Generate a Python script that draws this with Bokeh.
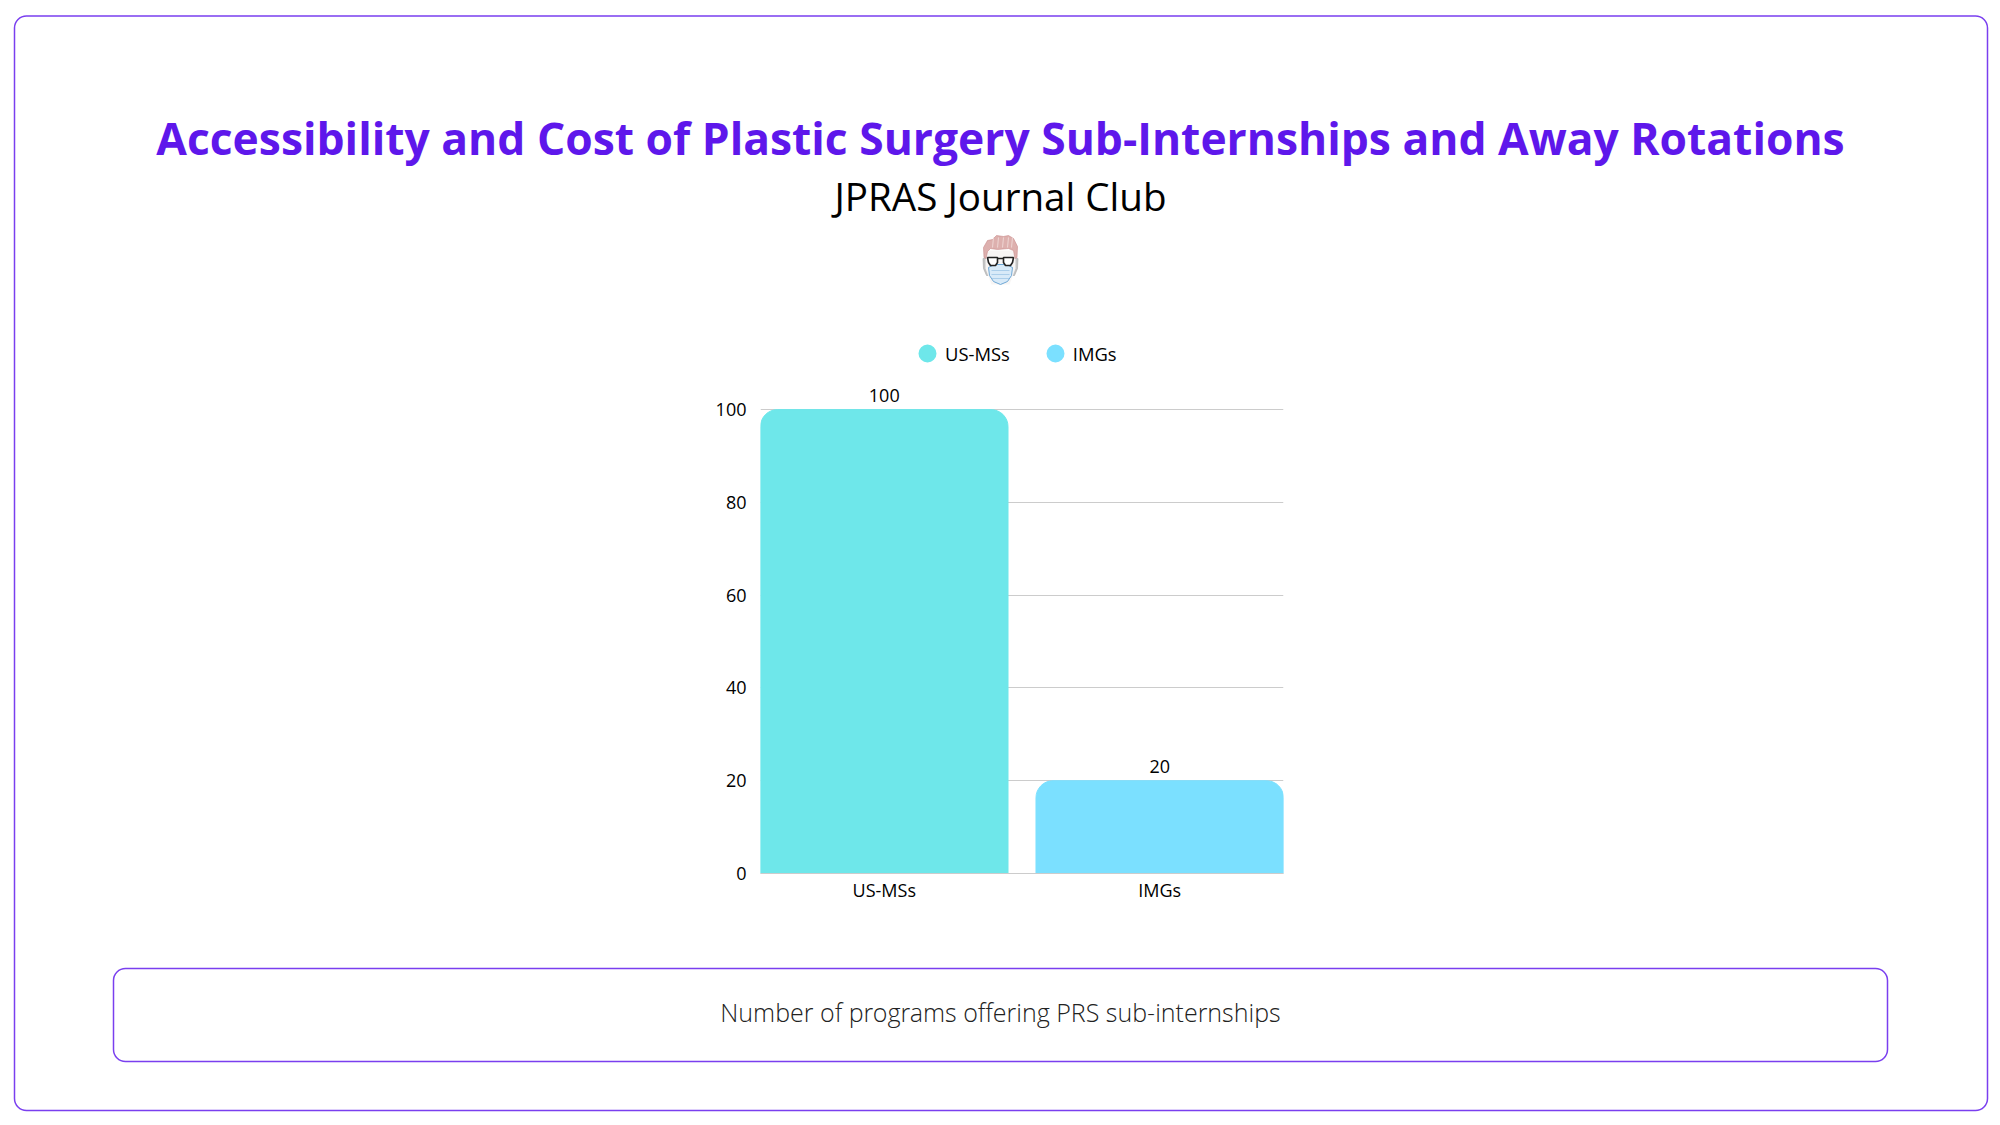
from bokeh.plotting import figure
from bokeh.core.properties import value
from bokeh.models import (FactorRange, Range1d, Label, LabelSet, BoxAnnotation, PolyAnnotation,
                          ColumnDataSource, Legend, LegendItem, FixedTicker)
from bokeh.embed import file_html
from bokeh.resources import INLINE

# ---- data ----
categories = ["US-MSs", "IMGs"]
programs = [100, 20]
bar_colors = ["#6EE7EA", "#7BE0FF"]
y_ticks = [0, 20, 40, 60, 80, 100]
title_text = "Accessibility and Cost of Plastic Surgery Sub-Internships and Away Rotations"
subtitle_text = "JPRAS Journal Club"
caption_text = "Number of programs offering PRS sub-internships"

FONT = "Open Sans"
PURPLE = "#5E17EB"
W, H = 1992, 1117
TOP_EXTRA = 8  # headroom above 100 so the value label is not clipped

# ---- background page: frames, titles, avatar, legend ----
bg = figure(width=W, height=H, output_backend="svg", toolbar_location=None,
            x_range=Range1d(0, W), y_range=Range1d(0, H),
            min_border=0, min_border_left=0, min_border_right=0, min_border_top=0, min_border_bottom=0,
            styles={"position": "absolute", "left": "0px", "top": "0px"})
bg.xaxis.visible = False
bg.yaxis.visible = False
bg.grid.visible = False
bg.outline_line_color = None

legend_items = []
for c, col in zip(categories, bar_colors):
    r = bg.scatter(x=[float("nan")], y=[float("nan")], marker="circle", fill_color=col, line_color=col, line_width=3.6)
    legend_items.append(LegendItem(label=c, renderers=[r]))
bg.add_layout(Legend(items=legend_items, orientation="horizontal", location=(909, H - 353 - 18),
                     glyph_width=36, glyph_height=36, label_standoff=0, spacing=27, padding=0, margin=0,
                     border_line_color=None, background_fill_alpha=0,
                     label_text_font=FONT, label_text_font_size="18.4px", label_text_color="#000000"), "center")

def text(s, cx, cy, size, color="#000000", style="normal", font=FONT):
    bg.add_layout(Label(x=cx, y=H - cy, x_units="screen", y_units="screen", text=s,
                        text_align="center", text_baseline="middle", text_font=font, text_font_size=size,
                        text_font_style=style, text_color=color))

def box(l, t, r, b, radius, width):
    bg.add_layout(BoxAnnotation(left=l, right=r, top=H - t, bottom=H - b,
                                left_units="screen", right_units="screen", top_units="screen", bottom_units="screen",
                                fill_alpha=0, line_color="#7A3FEF", line_alpha=1, line_width=width,
                                border_radius=radius))

def poly(pts, cx=1000, cy=260, fill=None, line=None, lw=1.0):
    xs = [cx + a for a, _ in pts]
    ys = [H - (cy + b) for _, b in pts]
    bg.add_layout(PolyAnnotation(xs=xs, ys=ys, xs_units="screen", ys_units="screen",
                                 fill_color=fill or "white", fill_alpha=1 if fill else 0,
                                 line_color=line or "white", line_alpha=1 if line else 0, line_width=lw))

box(14, 15.5, 1987, 1110, 12, 1.5)
box(113, 968, 1887, 1061, 12, 1.5)

text(title_text, 1000, 137.5, "44.4px", PURPLE, "bold")
text(subtitle_text, 1000, 195, "38.6px")
text(caption_text, 1000, 1011.5, "25px", "#222222", font="Open Sans Light")

# avatar
poly([(-14, -3), (-17.5, -2), (-17, 8), (-14, 15), (-11, 15)], fill="#C4C4C4", line="#A8A8A8", lw=0.6)
poly([(14, -3), (17.5, -2), (17, 8), (14, 15), (11, 15)], fill="#C4C4C4", line="#A8A8A8", lw=0.6)
poly([(-15, -10), (15, -10), (15, 8), (9, 24), (-9, 24), (-15, 8)], fill="#F7F5F4")
poly([(-16.5, -3), (-17, -13), (-13, -20), (-8, -21), (-4, -25), (3, -24), (8, -25), (13, -22), (17, -14),
      (16.5, -3), (14.5, -2), (13, -10), (8, -12), (-3, -11), (-10, -12), (-13, -9), (-14.5, -2)],
     fill="#DDB0AE", line="#C98C8C", lw=0.6)
for dx in (-8, -3, 2, 7, 11):
    poly([(dx, -13), (dx + 1, -23)], line="#F3DEDC", lw=0.8)
poly([(-12, 7), (-6, 4), (6, 4), (12, 7), (11, 15), (7, 21), (0, 24), (-7, 21), (-11, 15)],
     fill="#D8EAF8", line="#6FA8D6", lw=1.0)
for y_off in (10, 14, 18):
    poly([(-9, y_off), (9, y_off)], line="#8DBBE0", lw=0.6)
poly([(-13, -3), (-3, -3), (-3, 2), (-5, 5), (-10, 5), (-12, 2)], fill="#FFFFFF", line="#222222", lw=1.6)
poly([(3, -3), (13, -3), (12, 2), (10, 5), (5, 5), (3, 2)], fill="#FFFFFF", line="#222222", lw=1.6)
poly([(-3, -2), (3, -2)], line="#222222", lw=1.5)

# ---- chart, laid over the page with a transparent background ----
px_per_unit = 4.64
frame_top = 409 - TOP_EXTRA * px_per_unit
p = figure(width=W, height=H, output_backend="svg", toolbar_location=None,
           x_range=FactorRange(factors=categories, factor_padding=0.113, range_padding=0),
           y_range=Range1d(0, 100 + TOP_EXTRA),
           min_border_left=760, min_border_right=W - 1283,
           min_border_top=round(frame_top), min_border_bottom=H - 873,
           styles={"position": "absolute", "left": "0px", "top": "0px"})
p.outline_line_color = None
p.background_fill_color = None
p.border_fill_color = None

p.xgrid.visible = False
p.ygrid.grid_line_color = "#CCCCCC"
p.ygrid.grid_line_width = 1.2
p.yaxis.ticker = FixedTicker(ticks=y_ticks)
p.yaxis.axis_line_color = None
p.yaxis.major_tick_line_color = None
p.yaxis.minor_tick_line_color = None
p.yaxis.major_label_standoff = 8
p.yaxis.major_label_text_font = FONT
p.yaxis.major_label_text_font_size = "18px"
p.yaxis.major_label_text_color = "#000000"
p.xaxis.axis_line_color = "#CCCCCC"
p.xaxis.axis_line_width = 1.2
p.xaxis.major_tick_line_color = None
p.xaxis.minor_tick_line_color = None
p.xaxis.major_label_standoff = -2
p.xaxis.major_label_text_font = FONT
p.xaxis.major_label_text_font_size = "18px"
p.xaxis.major_label_text_color = "#000000"

src = ColumnDataSource(dict(cat=categories, val=programs, color=bar_colors, lab=[str(v) for v in programs]))
p.vbar(x="cat", top="val", bottom=0, width=1.0, fill_color="color", line_color="color",
       border_radius={"top_left": 17, "top_right": 17, "bottom_left": 0, "bottom_right": 0}, source=src)
p.add_layout(LabelSet(x="cat", y="val", text="lab", source=src, text_align="center", text_baseline="bottom",
                      y_offset=8, text_font=value(FONT), text_font_size="18px", text_color="#000000"))

open("out.html", "w").write(file_html([bg, p], INLINE))
